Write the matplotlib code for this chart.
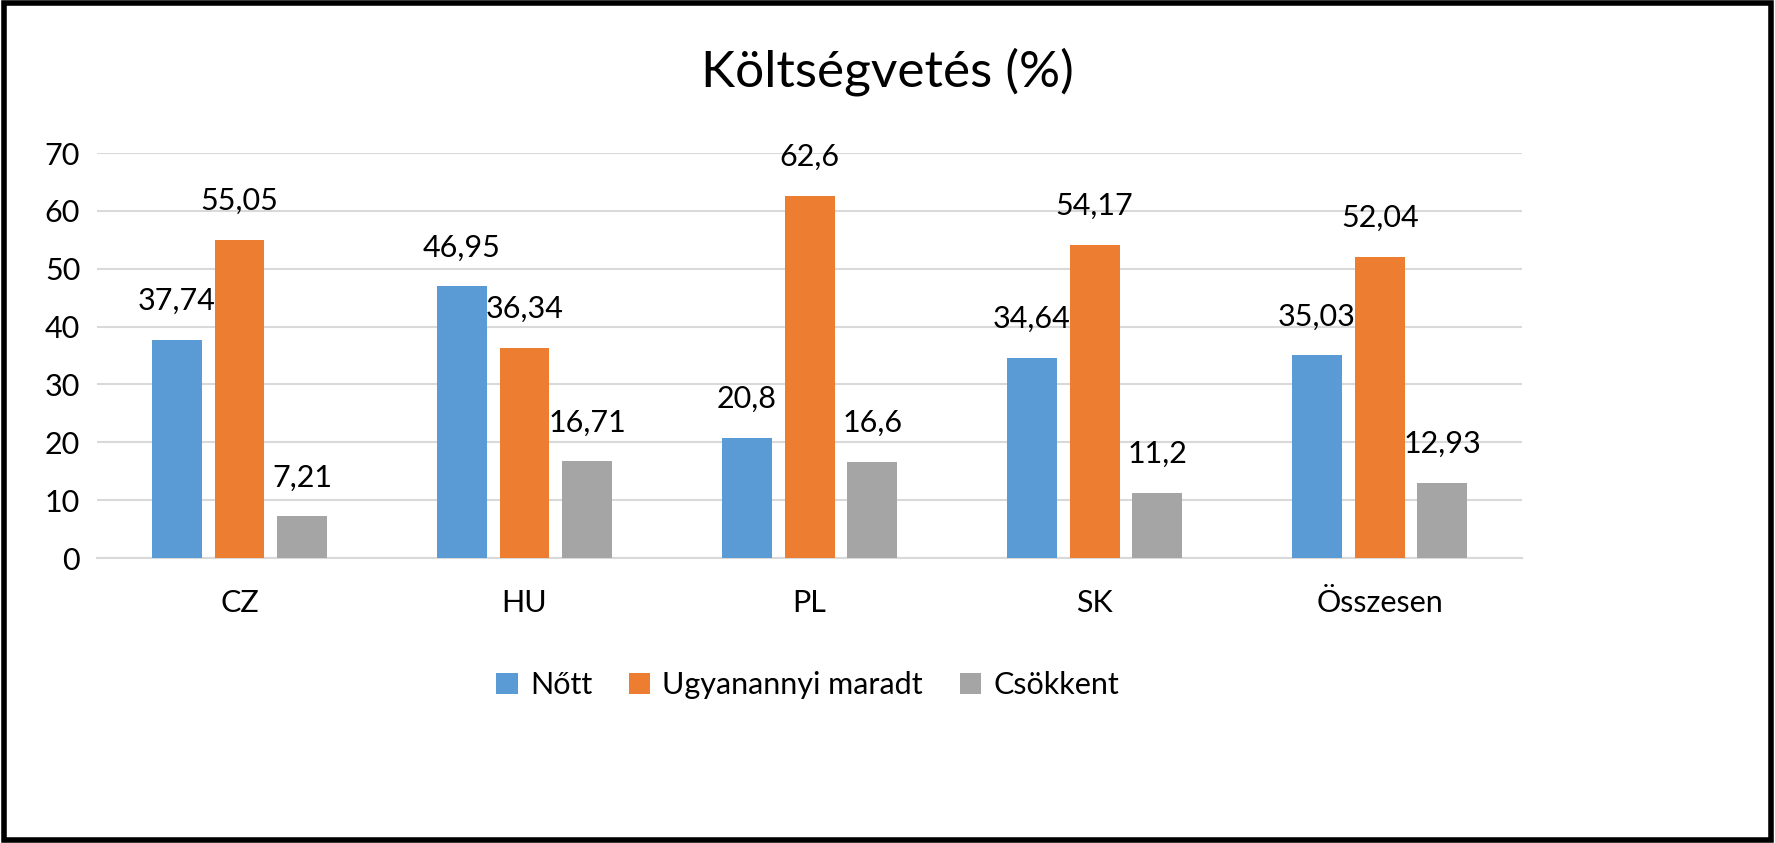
import matplotlib
matplotlib.use("Agg")
import matplotlib.pyplot as plt
import numpy as np
from matplotlib.patches import Rectangle

categories = ["CZ", "HU", "PL", "SK", "Összesen"]
series_names = ["Nőtt", "Ugyanannyi maradt", "Csökkent"]
nott = [37.74, 46.95, 20.8, 34.64, 35.03]
ugyanannyi = [55.05, 36.34, 62.6, 54.17, 52.04]
csokkent = [7.21, 16.71, 16.6, 11.2, 12.93]
labels_nott = ["37,74", "46,95", "20,8", "34,64", "35,03"]
labels_ugy = ["55,05", "36,34", "62,6", "54,17", "52,04"]
labels_cs = ["7,21", "16,71", "16,6", "11,2", "12,93"]
yticks = [0, 10, 20, 30, 40, 50, 60, 70]

colors = ["#5B9BD5", "#ED7D31", "#A5A5A5"]
plt.rcParams["font.family"] = "Lato"

fig = plt.figure(figsize=(17.75, 8.43), dpi=100)
ax = fig.add_axes([0.0546, 0.338, 0.803, 0.4805])
x = np.arange(len(categories))
w = 0.175
off = 0.22
for i, (vals, labs) in enumerate(zip([nott, ugyanannyi, csokkent], [labels_nott, labels_ugy, labels_cs])):
    bars = ax.bar(x + (i - 1) * off, vals, w, color=colors[i], label=series_names[i], zorder=3)
    for b, lab in zip(bars, labs):
        ax.annotate(lab, (b.get_x() + b.get_width() / 2, b.get_height()), xytext=(0, 18),
                    textcoords="offset points", ha="center", va="bottom", fontsize=22)

ax.set_xlim(-0.5, len(categories) - 0.5)
ax.set_ylim(0, 70)
ax.set_yticks(yticks)
ax.yaxis.grid(True, color="#D9D9D9", linewidth=1.5, zorder=0)
for s in ["top", "right", "left"]:
    ax.spines[s].set_visible(False)
ax.spines["bottom"].set_color("#D9D9D9")
ax.spines["bottom"].set_linewidth(1.5)
ax.tick_params(axis="both", length=0, labelsize=22, pad=12)
ax.set_xticks(x)
ax.set_xticklabels(categories)
ax.tick_params(axis="x", pad=22)

fig.text(0.5, 0.915, "Költségvetés (%)", ha="center", va="center", fontsize=37)
fig.legend(loc="center", bbox_to_anchor=(0.455, 0.187), ncol=3, frameon=False, fontsize=22,
           handlelength=0.7, handleheight=0.7, columnspacing=1.2, handletextpad=0.4)
fig.add_artist(Rectangle((0.002, 0.003), 0.996, 0.994, transform=fig.transFigure, fill=False,
                         edgecolor="black", linewidth=4))
fig.savefig("out.png", dpi=100, facecolor="white")
